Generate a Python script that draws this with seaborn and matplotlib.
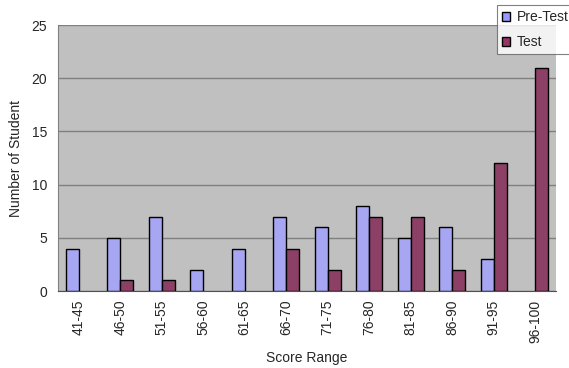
import matplotlib
matplotlib.use("Agg")
from matplotlib import pyplot as plt
import pandas as pd
import seaborn as sns
import numpy as np

categories = ['41-45', '46-50', '51-55', '56-60', '61-65', '66-70',
              '71-75', '76-80', '81-85', '86-90', '91-95', '96-100']
pre_test = [4, 5, 7, 2, 4, 7, 6, 8, 5, 6, 3, 0]
test = [0, 1, 1, 0, 0, 4, 2, 7, 7, 2, 12, 21]
series = ['Pre-Test', 'Test']
colors = ['#9999FF', '#993366']

df = pd.DataFrame({
    'range': categories * 2,
    'count': pre_test + test,
    'series': [series[0]] * len(categories) + [series[1]] * len(categories),
})

sns.set_style("white")
plt.rcParams['font.family'] = ['Liberation Sans', 'DejaVu Sans']

fig = plt.figure(figsize=(5.69, 3.68), dpi=100)
ax = fig.add_axes([0.102, 0.209, 0.875, 0.723])
ax.set_facecolor('#C0C0C0')

sns.barplot(data=df, x='range', y='count', hue='series', order=categories,
            hue_order=series, palette=colors, width=0.63,
            edgecolor='black', linewidth=1, ax=ax, legend=False, zorder=3)

# excel doesn't draw empty bars
for p in ax.patches:
    if p.get_height() == 0:
        p.set_visible(False)

ax.set_ylim(0, 25)
ax.set_xlim(-0.5, len(categories) - 0.5)
ax.set_yticks([0, 5, 10, 15, 20, 25])
ax.yaxis.grid(True, color='#808080', linewidth=1, zorder=0)
ax.set_axisbelow(True)
ax.tick_params(axis='y', length=0, labelsize=10, pad=8)
ax.set_xticks(np.arange(len(categories)))
ax.set_xticklabels(categories, rotation=90)
ax.tick_params(axis='x', length=0, labelsize=10, pad=6)
ax.set_xticks(np.arange(len(categories) + 1) - 0.5, minor=True)
ax.tick_params(axis='x', which='minor', direction='in', length=4, color='#808080')

for s in ['top', 'right']:
    ax.spines[s].set_visible(False)
ax.spines['left'].set_color('#808080')
ax.spines['bottom'].set_color('#505050')

ax.set_xlabel('Score Range', fontsize=10, labelpad=6)
ax.set_ylabel('Number of Student', fontsize=10, labelpad=6)

handles = [plt.Rectangle((0, 0), 1, 1, facecolor=c, edgecolor='black', linewidth=1)
           for c in colors]
leg = fig.legend(handles, series, loc='upper left', bbox_to_anchor=(0.873, 0.986),
                 fontsize=10, frameon=True, fancybox=False, handlelength=0.6,
                 handleheight=0.6, handletextpad=0.5, borderpad=0.35,
                 labelspacing=0.8, borderaxespad=0)
leg.get_frame().set_edgecolor('#606060')
leg.get_frame().set_linewidth(0.8)

fig.savefig('out.png', dpi=100)
